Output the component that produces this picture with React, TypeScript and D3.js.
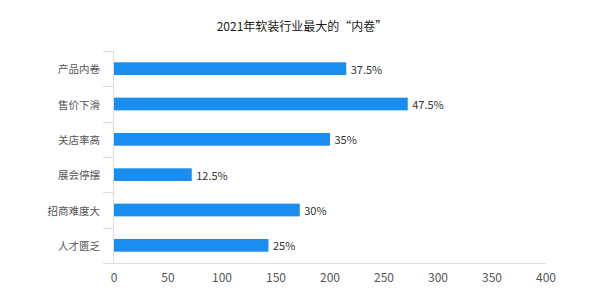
import React from "react";
import * as d3 from "d3";

const categories = ["产品内卷", "售价下滑", "关店率高", "展会停摆", "招商难度大", "人才匮乏"];
const counts = [215, 272, 200, 72, 172, 143];
const percentLabels = ["37.5%", "47.5%", "35%", "12.5%", "30%", "25%"];
const xTicks = [0, 50, 100, 150, 200, 250, 300, 350, 400];
const title = "2021年软装行业最大的“内卷”";

const W = 600;
const H = 294;
const font = "'Noto Sans CJK SC', 'Noto Sans', sans-serif";

export default function App() {
  const x = d3.scaleLinear().domain([0, 400]).range([114, 546]);
  const y = d3.scaleBand<string>().domain(categories).range([51, 263]).paddingInner(0.64).paddingOuter(0.32);
  const bandStep = y.step();
  const boundaries = categories.map((c) => (y(c) as number) - (y.paddingInner() * bandStep) / 2);
  return (
    <svg width={W} height={H} style={{ position: "absolute", left: 0, top: 0, background: "#fff" }}>
      <text x={302} y={31} textAnchor="middle" fontFamily={font} fontSize={12} fill="#1a1a1a" fontWeight={400}>
        {title}
      </text>
      {/* y axis */}
      <line x1={113.5} x2={113.5} y1={51} y2={263} stroke="#ddd" strokeWidth={1} />
      {[...boundaries, 263].map((b, i) => (
        <line key={"t" + i} x1={103} x2={113.5} y1={Math.round(b) + 0.5} y2={Math.round(b) + 0.5} stroke="#ddd" />
      ))}
      {/* x axis */}
      <line x1={113.5} x2={546} y1={263.5} y2={263.5} stroke="#ddd" strokeWidth={1} />
      {xTicks.map((t) => (
        <text key={t} x={x(t)} y={276} textAnchor="middle" dominantBaseline="central" fontFamily={font} fontSize={12} fill="#555">
          {t}
        </text>
      ))}
      {categories.map((c, i) => {
        const yy = y(c) as number;
        const bw = y.bandwidth();
        return (
          <g key={c}>
            <text x={100} y={yy + bw / 2} textAnchor="end" dominantBaseline="central" fontFamily={font} fontSize={10.5} fill="#555">
              {c}
            </text>
            <rect x={x(0)} y={yy} width={x(counts[i]) - x(0)} height={bw} fill="#1a8ef0" />
            <text x={x(counts[i]) + 4.5} y={yy + bw / 2} dominantBaseline="central" fontFamily={font} fontSize={11} fill="#333">
              {percentLabels[i]}
            </text>
          </g>
        );
      })}
    </svg>
  );
}
